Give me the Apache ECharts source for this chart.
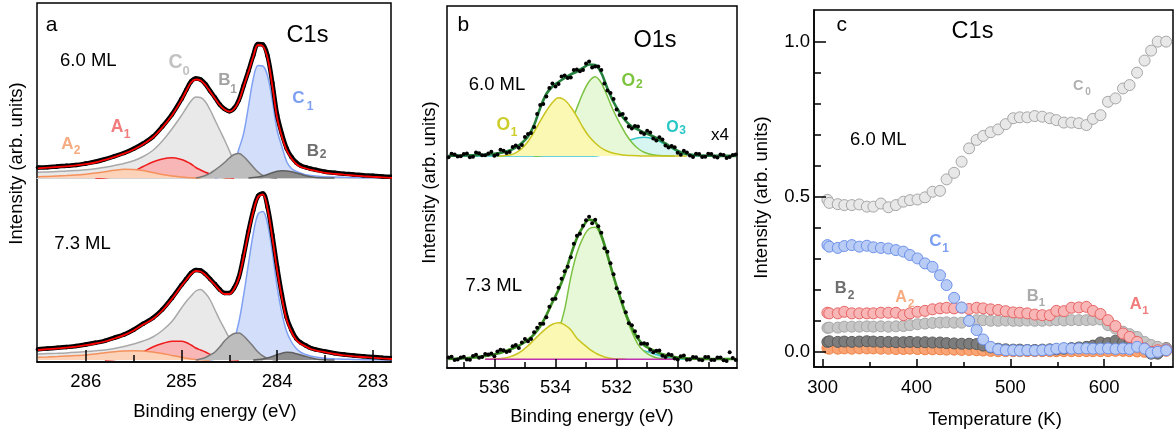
<!DOCTYPE html>
<html>
<head>
<meta charset="utf-8">
<script src="https://cdn.jsdelivr.net/npm/echarts@6.0.0/dist/echarts.min.js"></script>
<style>
html,body{margin:0;padding:0;background:#fff;}
#chart{width:1176px;height:438px;}
</style>
</head>
<body>
<div id="chart"></div>
<script>
const _ = null;
// ---------- Panel a : C1s spectra (binding energy, eV) ----------
const E_a = [286.5,286.4,286.3,286.2,286.1,286.0,285.9,285.8,285.7,285.6,285.5,285.4,285.3,285.2,285.1,285.0,
  284.95,284.9,284.85,284.8,284.75,284.7,284.65,284.6,284.55,284.5,284.45,284.4,284.35,284.3,284.25,284.2,284.15,284.1,284.05,284.0,
  283.95,283.9,283.85,283.8,283.75,283.7,283.65,283.6,283.5,283.4,283.3,283.2,283.1,283.0,282.9,282.8];
// 6.0 ML
const a6_data = [10.5,10.8,11.6,12.2,13,14.5,16.2,18.8,21.8,25,29.3,34.5,41.2,51.5,63.5,79,
  88,96.5,99.5,98.5,94,87,80.5,73.5,69,66.8,69.8,78,92.5,107,122.5,134,133.5,122,95,63,44,29.5,21,15.5,12.3,10.7,9.3,8.3,
  6.3,5.2,4.3,3.5,2.8,2.2,1.6,1.3];
const a6_fit = [9.7,10.4,11,11.7,12.6,13.8,15.5,18.2,21.2,24.4,28.5,33.8,40.5,50.5,62.5,78,
  87,95.5,98.5,97.5,93,86.3,79.5,73,68.5,66.3,69,77,91.5,106,121.3,133,132,120,92,60,41.3,27.5,19.5,14,11,9.5,8.2,7.2,
  5.2,4.2,3.3,2.5,1.8,1.2,0.6,0.2];
const a6_C0 = [5.7,6.1,6.5,6.9,7.5,8.2,9.2,10.8,12.6,14.6,17.2,21.5,27.5,37,49,62.5,
  70,77,81,80.5,76.3,68,58,48,38,27.5,16.5,10.5,4.7,2.5,1,0.4,0,_,_,_,_,_,_,_,_,_,_,_,_,_,_,_,_,_,_,_];
const a6_A2 = [1.3,1.6,2,2.5,3.1,3.7,4.9,6.3,7.7,8.7,8.4,7.4,5.4,3.6,2,1,0.6,0.3,0.1,0,
  _,_,_,_,_,_,_,_,_,_,_,_,_,_,_,_,_,_,_,_,_,_,_,_,_,_,_,_,_,_,_,_];
const a6_A1 = [_,_,_,_,_,_,0,0.3,1,3,6.8,11.5,16,19,20.2,18.5,16.5,14,10.5,8,5.8,4,2.5,1.3,0.5,0.2,0,
  _,_,_,_,_,_,_,_,_,_,_,_,_,_,_,_,_,_,_,_,_,_,_,_,_];
const a6_B1 = [_,_,_,_,_,_,_,_,_,_,_,_,_,_,_,_,_,_,0,1,2.5,4.7,8,11.5,15.5,20,23.5,24.5,21.5,16.5,11,6,2.6,1,0.3,0,
  _,_,_,_,_,_,_,_,_,_,_,_,_,_,_,_];
const a6_C1 = [_,_,_,_,_,_,_,_,_,_,_,_,_,_,_,_,_,_,_,_,_,_,0,1,3,7,14,29,44.7,71.3,99,112.5,112,102,77,47.5,31.3,16.3,
  9.5,6.5,4.8,3.2,2.5,2,1.3,1,0.7,0.5,0.3,0.2,0.1,0];
const a6_B2 = [_,_,_,_,_,_,_,_,_,_,_,_,_,_,_,_,_,_,_,_,_,_,_,_,_,_,_,_,_,0,0.4,1,2,3.5,5.2,6.8,7.3,7,6.2,5,3.7,2.2,1.2,0.6,0.1,0,
  _,_,_,_,_,_];
// 7.3 ML
const a7_data = [10.8,11.5,12.2,13,14,15.5,17.2,19.2,22.3,25.5,30.3,36.3,42,50.5,62,75,
  81,87,90,89.5,86,81,76,70.5,67,67,72,83,104.5,128.5,149.5,164,166.5,153,125,93,65,42.5,30,21.5,17.2,14.5,12,10.6,
  8.6,6.8,5.4,4.4,3.7,3,2.3,1.7];
const a7_fit = [10,10.8,11.5,12.3,13.4,14.8,16.5,18.5,21.5,24.8,29.5,35.5,41,49.5,61,74,
  80,86,89,88.5,85,80,75,69.5,66,66,71,82,103.3,127,148,163,165.5,151,122,90,62,40,28,20,16,13.5,11,9.7,
  7.8,6,4.6,3.7,3,2.3,1.6,1];
const a7_C0 = [6,6.4,6.7,7.1,7.7,8.4,9.2,10.1,11.5,13.5,16,19,23,29.5,38.5,52,
  58.5,64,69,70.5,66.7,60,50,40,31,22,14,7.5,3.5,1.5,0.6,0.2,0,_,_,_,_,_,_,_,_,_,_,_,_,_,_,_,_,_,_,_];
const a7_A2 = [2.7,3,3.4,3.9,4.4,5,6,7.2,8.3,9,9.3,9,8,6.5,4.6,2.8,1.8,1.1,0.6,0.3,0.1,0,
  _,_,_,_,_,_,_,_,_,_,_,_,_,_,_,_,_,_,_,_,_,_,_,_,_,_,_,_,_,_];
const a7_A1 = [_,_,_,_,_,_,_,0,0.5,2,4.8,8.3,13,16.5,18.7,18.7,17.5,15,12,10,8,5.5,3.7,2.4,1.3,0.6,0.2,0,
  _,_,_,_,_,_,_,_,_,_,_,_,_,_,_,_,_,_,_,_,_,_,_,_];
const a7_B1 = [_,_,_,_,_,_,_,_,_,_,_,_,_,_,_,_,_,_,0,1,2.5,5,8,13,19,23.5,26.5,27,24,19,13.5,8,4,1.7,0.6,0,
  _,_,_,_,_,_,_,_,_,_,_,_,_,_,_,_];
const a7_C1 = [_,_,_,_,_,_,_,_,_,_,_,_,_,_,_,_,_,_,_,_,_,0,1,2.5,5,10,20,38,65,96,126,146,148.5,136,107,73,46.7,28.3,
  18,11.5,7.5,5.5,4,3,1.7,1.2,0.8,0.5,0.3,0.2,0.1,0];
const a7_B2 = [_,_,_,_,_,_,_,_,_,_,_,_,_,_,_,_,_,_,_,_,_,_,_,_,_,_,_,_,_,_,0,0.4,1,2,3.5,5.2,6.8,7.7,7.4,6.3,5,3.6,2.2,1.1,0.3,0,
  _,_,_,_,_,_];

// ---------- Panel b : O1s spectra ----------
const E_b = [537.5,537.3,537.1,536.9,536.7,536.5,536.3,536.1,535.9,535.7,535.5,535.3,535.1,534.9,534.7,534.5,
  534.3,534.1,533.9,533.7,533.5,533.3,533.1,532.9,532.7,532.5,532.3,532.1,531.9,531.7,531.5,531.3,
  531.1,530.9,530.7,530.5,530.3,530.1,529.9,529.7,529.5,529.3,529.1,528.9,528.7,528.5,528.3,528.1];
const E_bm = [537.4,537.2,537.0,536.8,536.6,536.4,536.2,536.0,535.8,535.6,535.4,535.2,535.0,534.8,534.6,534.4,
  534.2,534.0,533.8,533.6,533.4,533.2,533.0,532.8,532.6,532.4,532.2,532.0,531.8,531.6,531.4,531.2,
  531.0,530.8,530.6,530.4,530.2,530.0,529.8,529.6,529.4,529.2,529.0,528.8,528.6,528.4,528.2];
const b6_data = [-1.2,1.6,-0.3,2.6,-0.7,2.8,0.8,4.3,1.6,5.2,4,10.5,11,22,29,51,59.5,72.5,72,80.5,78.5,86.5,86,94.5,
  89.5,86,65.5,57,41,37.5,27.5,29.5,22,23.5,15.5,16.5,8.5,8.8,1.3,3.4,-1,2,-0.7,2,-1.4,1.1,-1.1,1.6];
const b6_data2 = [2.35,-0.55,2.05,-1.3,3.4,0.65,2.55,0.2,6.15,3.1,9,8.2,19,23,42,52,68,69.5,79.5,78,86,84.8,92.5,88.5,
  89.5,72.5,63,46.5,42,29.5,30,23.5,25.2,17.5,18.7,10.5,10.1,3.3,5.3,0.4,2.2,-1.1,2.25,-0.85,1.6,-1.9,1.1];
const b6_fit = [0.3,0.4,0.5,0.6,0.8,1,1.3,1.8,2.6,3.7,5.5,8.5,13,19.5,31,48,62,69.5,74,78,81.5,84.5,88,91.5,
  91,83,67.5,54,43.5,35,29.5,26.5,23.5,21,18,14.5,10.5,6.8,3.8,1.9,1,0.5,0.3,0.2,0.1,0.1,0.1,0.1];
const b6_O1 = [_,_,_,_,_,_,_,_,0,0.3,1,3.2,7.5,14.5,24,34.8,45,53.5,58.3,56,49,39.5,28.5,19.5,13,8,4.8,2.8,1.6,0.8,0.4,0.2,0,
  0,0,0,0,0,0,0,_,_,_,_,_,_,_,_];
const b6_O2 = [_,_,_,_,_,_,_,_,_,_,_,_,_,_,0,0.3,1,3,8,18,32,48,63,74.5,79.3,73,59.5,45,33,22,13.5,7.5,3.8,1.8,0.8,0.3,0.1,0,
  _,_,_,_,_,_,_,_,_,_];
const b6_O3 = [0,0,0,0,0,0,0,0,0,0,0,0,0,0,0,0,0,0,0,0,0,0,0,0,0,1,3,6.5,10.5,14,16.5,18.2,18.7,18,16,13,9.5,6,3.2,1.5,0.6,0.2,
  0,0,0,0,0,0];
const b7_data = [1.9,-0.6,1.7,-0.2,3.3,1.5,5.3,5.8,7.7,9.1,8.3,14.3,16.8,18,27,35.5,42,60,71.5,88,102,123.5,133.5,142.5,
  139.5,126.5,107.5,85,66.5,47,34,22.5,16,9.5,8.5,3.5,5,0.8,3,-0.5,2.2,-0.5,2.4,-0.7,1.8,-0.9,7,-0.7];
const b7_data2 = [2.5,-0.25,2.6,-0.45,4.65,2.4,4.8,3,9.65,7.2,13,11.3,20.4,20.2,31.5,35.5,52.5,60.5,80.5,92.5,115.5,125.5,139,136,
  133,111,96,71,57.5,36,28,15.5,15.2,7,8.7,2.2,4.4,-0.1,3.75,-0.15,2.1,-1.05,2.35,-0.7,1.8,-1.7,1.3];
const b7_fit = [0.4,0.6,0.9,1.3,1.8,2.5,3.3,4.3,5.7,7.6,9.8,12.3,15.3,19.5,25,33,44,57,69.5,85,104,121,132.5,139.5,
  137.5,124,104.5,83,63.5,45.5,31.5,20.5,14,10.5,7.5,5,3.5,2.3,1.5,1,0.7,0.5,0.4,0.3,0.3,0.3,0.3,0.3];
const b7_O1 = [_,_,_,_,_,_,0,0.2,0.5,1.1,2.4,4.8,8.5,13.5,19.5,25.5,31,35,36.5,34.5,29.5,21,15.5,10.5,6.5,3.5,1.5,0.6,0.2,0,
  _,_,_,_,_,_,_,_,_,_,_,_,_,_,_,_,_,_];
const b7_O2 = [_,_,_,_,_,_,_,_,_,_,_,0,0.5,0.8,1.7,4,8.5,17,29,50,82,106,121.5,130.5,132,122,102.5,82,62,43.5,27.5,15,8,4,1.6,0.6,0.2,0,
  _,_,_,_,_,_,_,_,_,_];
const b7_O3 = [_,_,_,_,_,_,_,_,_,_,_,_,_,_,_,_,_,_,_,_,_,_,_,_,_,0,0.4,1.3,3.2,5.5,7.5,8.6,8.2,6.8,4.8,2.9,1.5,0.7,0.3,0,
  _,_,_,_,_,_,_,_];
const b7_base = [_,_,_,_,_,_,0,0,0,0,0,0,0,0,0,0,0,0,0,0,0,0,0,0,0,0,0,0,0,0,0,0,0,0,0,0,0,0,_,_,_,_,_,_,_,_,_,_];

// ---------- Panel c : C1s component intensities vs temperature ----------
const T = [305,307,316,323,331,339,347,354,362,370,378,386,393,401,409,417,425,432,440,448,456,464,471,479,
  487,495,503,510,518,526,534,542,549,557,565,573,581,588,596,604,612,620,627,635,643,650,657,666];
const c_C0 = [0.49,0.48,0.476,0.473,0.473,0.475,0.468,0.468,0.478,0.466,0.473,0.484,0.489,0.491,0.498,0.516,0.519,0.556,0.577,0.613,
  0.656,0.683,0.696,0.708,0.717,0.734,0.753,0.756,0.756,0.760,0.758,0.753,0.747,0.739,0.739,0.737,0.731,0.751,0.763,0.806,
  0.817,0.849,0.860,0.900,0.939,0.971,1.0,1.0];
const c_C1 = [0.344,0.339,0.335,0.341,0.344,0.339,0.342,0.337,0.335,0.333,0.328,0.323,0.312,0.301,0.285,0.274,0.247,0.215,0.174,0.143,
  0.100,0.070,0.040,0.016,0.008,0.005,0.005,0.004,0.005,0.004,0.005,0.006,0.010,0.012,0.010,0.011,0.011,0.010,0.010,0.011,
  0.009,0.011,0.009,0.016,0.010,-0.003,0.0,0.005];
const c_A1 = [0.126,0.124,0.124,0.129,0.124,0.124,0.124,0.124,0.126,0.126,0.126,0.118,0.124,0.129,0.132,0.137,0.140,0.142,0.140,0.142,
  0.138,0.142,0.140,0.137,0.135,0.131,0.127,0.126,0.124,0.120,0.118,0.118,0.132,0.131,0.142,0.143,0.145,0.132,0.122,0.102,
  0.083,0.059,0.048,0.032,0.011,0.0,0.005,0.007];
const c_B1 = [0.077,0.078,0.078,0.081,0.081,0.081,0.082,0.081,0.082,0.081,0.082,0.083,0.086,0.089,0.091,0.093,0.094,0.095,0.094,0.094,
  0.100,0.102,0.102,0.100,0.100,0.101,0.100,0.100,0.101,0.100,0.100,0.101,0.102,0.101,0.102,0.102,0.102,0.103,0.104,0.086,
  0.075,0.065,0.057,0.048,0.032,0.022,0.016,0.011];
const c_B2 = [0.032,0.034,0.032,0.033,0.032,0.033,0.034,0.033,0.032,0.032,0.031,0.031,0.032,0.031,0.031,0.030,0.030,0.028,0.027,0.026,
  0.026,0.025,0.020,0.014,0.010,0.008,0.007,0.007,0.006,0.006,0.007,0.008,0.008,0.010,0.012,0.014,0.016,0.020,0.030,0.028,
  0.036,0.030,0.028,0.026,0.018,-0.006,-0.006,0.012];
const c_A2 = [0.012,0.010,0.010,0.011,0.010,0.011,0.011,0.011,0.010,0.010,0.009,0.009,0.010,0.009,0.008,0.008,0.008,0.007,0.007,0.006,
  0.006,0.005,0.004,0.003,0.002,0.002,0.002,0.002,0.002,0.002,0.002,0.002,0.002,0.002,0.002,0.002,0.002,0.002,0.002,0.002,
  0.003,0.003,0.002,0.001,0.000,-0.002,-0.002,0.003];

// ---------- tick values ----------
const ticksA = [283,284,285,286], minorA = [283.5,284.5,285.5];
const ticksB = [530,532,534,536], minorB = [529,531,533,535,537];
const ticksCx = [300,400,500,600], minorCx = [350,450,550,650];
const ticksCy = [0,0.5,1.0], minorCy = [0.1,0.2,0.3,0.4,0.6,0.7,0.8,0.9];

// ---------- build ----------
const FONT = '"Liberation Sans", Arial, Helvetica, sans-serif';
const xy = (xs, ys) => xs.map((x, i) => [x, ys[i] === null ? '-' : ys[i]]);
let zc = 2;
function comp(xi, yi, xs, ys, color, w, fill) {
  const s = {type:'line', xAxisIndex:xi, yAxisIndex:yi, data:xy(xs, ys), smooth:0.35, symbol:'none',
    lineStyle:{color:color, width:w}, z:zc++, silent:true};
  if (fill) s.areaStyle = {color:fill, opacity:1};
  return s;
}
function dots(xi, yi, xs, ys) {
  return {type:'line', xAxisIndex:xi, yAxisIndex:yi, data:xy(xs, ys), smooth:0.35, symbol:'circle', symbolSize:4.5,
    showAllSymbol:true, itemStyle:{color:'#000'}, lineStyle:{color:'#000', width:4.5}, z:zc++, silent:true};
}
function scat(xi, yi, xs, ys, size, fill, stroke) {
  return {type:'scatter', xAxisIndex:xi, yAxisIndex:yi, data:xy(xs, ys), symbolSize:size,
    itemStyle:{color:fill, borderColor:stroke, borderWidth:stroke ? 1 : 0, opacity:1}, z:zc++, silent:true};
}
function majorX(grid, min, max, inv, ticks, len, margin) {
  return {type:'value', gridIndex:grid, min, max, inverse:inv, position:'bottom', offset:0, z:50,
    axisLine:{show:true, onZero:false, lineStyle:{color:'#000', width:1.5}},
    axisTick:{show:true, inside:true, length:len, customValues:ticks, lineStyle:{color:'#000', width:1.5}},
    axisLabel:{show:true, customValues:ticks, fontSize:18.5, color:'#000', fontFamily:FONT, margin},
    splitLine:{show:false}};
}
function minorX(grid, min, max, inv, ticks, len) {
  return {type:'value', gridIndex:grid, min, max, inverse:inv, position:'bottom', offset:0, z:50,
    axisLine:{show:false, onZero:false},
    axisTick:{show:true, inside:true, length:len, customValues:ticks, lineStyle:{color:'#000', width:1.5}},
    axisLabel:{show:false}, splitLine:{show:false}};
}
const hidX = (grid, min, max) => ({type:'value', gridIndex:grid, min, max, inverse:true, show:false});
const hidY = (grid, min, max) => ({type:'value', gridIndex:grid, min, max, show:false});

const xAxis = [
  majorX(0, 282.81, 286.51, true, ticksA, 12, 10),
  minorX(0, 282.81, 286.51, true, minorA, 7),
  {type:'value', gridIndex:1, min:282.81, max:286.51, inverse:true, show:true,
    axisLine:{show:true, onZero:true, lineStyle:{color:'#d4d4d4', width:1}}, axisTick:{show:false}, axisLabel:{show:false}, splitLine:{show:false}},
  hidX(2, 282.81, 286.51),
  majorX(3, 528.06, 537.55, true, ticksB, 9, 10.5),
  minorX(3, 528.06, 537.55, true, minorB, 6),
  hidX(4, 528.06, 537.55),
  hidX(5, 528.06, 537.55),
  majorX(6, 290.7, 673.3, false, ticksCx, 8, 11.5),
  minorX(6, 290.7, 673.3, false, minorCx, 5)
];
const yAxis = [
  hidY(0, 0, 1), hidY(1, -5, 140), hidY(2, -5, 180), hidY(3, 0, 1), hidY(4, -10, 100), hidY(5, -10, 150),
  {type:'value', gridIndex:6, min:-0.049, max:1.102, position:'left', offset:0, z:50,
    axisLine:{show:true, onZero:false, lineStyle:{color:'#000', width:1.5}},
    axisTick:{show:true, inside:true, length:12, customValues:ticksCy, lineStyle:{color:'#000', width:1.5}},
    axisLabel:{show:true, customValues:ticksCy, fontSize:18.5, color:'#000', fontFamily:FONT, margin:4,
      formatter:v => Number(v).toFixed(1)},
    splitLine:{show:false}},
  {type:'value', gridIndex:6, min:-0.049, max:1.102, position:'left', offset:0, z:50,
    axisLine:{show:false, onZero:false},
    axisTick:{show:true, inside:true, length:7, customValues:minorCy, lineStyle:{color:'#000', width:1.5}},
    axisLabel:{show:false}, splitLine:{show:false}}
];
const box = {show:true, borderColor:'#000', borderWidth:1.5, backgroundColor:'transparent', outerBoundsMode:'none'};
const grid = [
  Object.assign({left:37, top:3, width:354, height:359}, box),
  {left:37, top:38, width:354, height:145, outerBoundsMode:'none'},
  {left:37, top:180, width:354, height:185, outerBoundsMode:'none'},
  Object.assign({left:447, top:6, width:290, height:362}, box),
  {left:447, top:56, width:290, height:110, outerBoundsMode:'none'},
  {left:447, top:209.3, width:290, height:160, outerBoundsMode:'none'},
  Object.assign({left:814, top:10, width:359, height:357}, box)
];

const series = [];
// panel a, 6.0 ML (x 2, y 1)
series.push(comp(2,1,E_a,a6_C0,'#a9a9a9',1.5,'#e9e9e9'));
series.push(comp(2,1,E_a,a6_A1,'#ee1c1c',1.5,'#f9b6b6'));
series.push(comp(2,1,E_a,a6_A2,'#f5915c',1.5,'#fcd2b8'));
series.push(comp(2,1,E_a,a6_C1,'#7fa0f3',1.5,'#d3defa'));
series.push(comp(2,1,E_a,a6_B1,'#7a7a7a',1.5,'#bdbdbd'));
series.push(comp(2,1,E_a,a6_B2,'#5f5f5f',1.5,'#8e8e8e'));
series.push(dots(2,1,E_a,a6_data));
series.push(comp(2,1,E_a,a6_fit,'#ff0000',1.8));
// panel a, 7.3 ML (x 3, y 2)
series.push(comp(3,2,E_a,a7_C0,'#a9a9a9',1.5,'#e9e9e9'));
series.push(comp(3,2,E_a,a7_A1,'#ee1c1c',1.5,'#f9b6b6'));
series.push(comp(3,2,E_a,a7_A2,'#f5915c',1.5,'#fcd2b8'));
series.push(comp(3,2,E_a,a7_C1,'#7fa0f3',1.5,'#d3defa'));
series.push(comp(3,2,E_a,a7_B1,'#7a7a7a',1.5,'#bdbdbd'));
series.push(comp(3,2,E_a,a7_B2,'#5f5f5f',1.5,'#8e8e8e'));
series.push(dots(3,2,E_a,a7_data));
series.push(comp(3,2,E_a,a7_fit,'#ff0000',1.8));
// panel b, 6.0 ML (x 6, y 4)
series.push(comp(6,4,E_b,b6_O3,'#36c8c8',1.5,'#d8f6f1'));
series.push(comp(6,4,E_b,b6_O2,'#7cc242',1.5,'#e7f8d8'));
series.push(comp(6,4,E_b,b6_O1,'#c9c41e',1.5,'#fbf8b4'));
series.push(comp(6,4,E_b,b6_fit,'#24803c',2.6));
series.push(scat(6,4,E_b,b6_data,4,'#000'));
series.push(scat(6,4,E_bm,b6_data2,4,'#000'));
// panel b, 7.3 ML (x 7, y 5)
series.push(comp(7,5,E_b,b7_O3,'#36c8c8',1.5,'#d8f6f1'));
series.push(comp(7,5,E_b,b7_O2,'#7cc242',1.5,'#e7f8d8'));
series.push(comp(7,5,E_b,b7_O1,'#c9c41e',1.5,'#fbf8b4'));
series.push(comp(7,5,E_b,b7_base,'#c030b0',1.5));
series.push(comp(7,5,E_b,b7_fit,'#3a8e22',2.6));
series.push(scat(7,5,E_b,b7_data,4,'#000'));
series.push(scat(7,5,E_bm,b7_data2,4,'#000'));
// panel c (x 8, y 6)
series.push(scat(8,6,T,c_A2,11,'#f8a474','#ef8248'));
series.push(scat(8,6,T,c_B2,11,'#7d7d7d','#5a5a5a'));
series.push(scat(8,6,T,c_B1,11,'#c6c6c6','#a6a6a6'));
series.push(scat(8,6,T,c_A1,11,'#f8b6b6','#e86464'));
series.push(scat(8,6,T,c_C1,11,'#b9ccf6','#6d91ea'));
series.push(scat(8,6,T,c_C0,11,'#e8e8e8','#a6a6a6'));

// ---------- text ----------
function txt(x, y, s, size, color, bold, rot) {
  return {type:'text', x:x, y:y, rotation:rot || 0, z:100, silent:true,
    style:{text:s, font:(bold ? 'bold ' : '') + size + 'px ' + FONT, fill:color || '#000',
      align:'center', verticalAlign:'middle', textAlign:'center', textVerticalAlign:'middle'}};
}
const labelA = [
  ['C','0',175.5,62.5,186,71,19.5,13,'#c2c2c2'],
  ['B','1',224.5,80.5,233.5,89.5,17,12,'#a3a3a3'],
  ['C','1',298.5,98.5,310,107,17,12,'#7d9ff2'],
  ['B','2',312.8,151.7,323.2,155,17,12,'#6e6e6e'],
  ['A','1',117,127.5,127,134.5,17.5,12,'#f27b7b'],
  ['A','2',67.5,144,77,151,17,12,'#f7ab80'],
  ['O','1',503.3,125,514,133,17.5,12,'#cccc2a'],
  ['O','2',628.3,80.7,639.3,85,17.5,12,'#7cc43c'],
  ['O','3',672.5,127.5,682.7,130.5,16,12,'#2bc6c6'],
  ['C','0',1078.3,85.8,1088,92.5,14.5,10,'#b0b0b0'],
  ['C','1',935.3,241.7,945.5,249,17,12,'#7d9ff2'],
  ['B','2',840.8,288.8,851.2,295.5,16.5,12,'#6e6e6e'],
  ['A','2',901,297.5,911.2,303.5,16,11.5,'#f7ab80'],
  ['B','1',1032.7,296.7,1042,302.5,16.5,11.5,'#ababab'],
  ['A','1',1135.8,304,1145.5,310.5,16.5,11.5,'#f27b7b']
];
const graphic = [
  txt(51.7,25,'a',21), txt(307.5,36,'C1s',23.5), txt(88.3,61,'6.0 ML',18.5), txt(82.5,244,'7.3 ML',18.5),
  txt(463.3,25,'b',21), txt(655,40.5,'O1s',23.5), txt(497,85,'6.0 ML',18.5), txt(493.7,285.5,'7.3 ML',18.5), txt(720,135,'x4',17),
  txt(841.7,25,'c',21), txt(972.5,32,'C1s',23.5), txt(878.3,140,'6.0 ML',18.5),
  txt(215,411.5,'Binding energy (eV)',18.5), txt(592,416.5,'Binding energy (eV)',18.5), txt(995,419.5,'Temperature (K)',18.5),
  txt(17,163.5,'Intensity (arb. units)',18.5,'#000',false,Math.PI/2),
  txt(430,182.5,'Intensity (arb. units)',18.5,'#000',false,Math.PI/2),
  txt(762,197.5,'Intensity (arb. units)',18.5,'#000',false,Math.PI/2)
];
labelA.forEach(l => {
  graphic.push(txt(l[2], l[3], l[0], l[6], l[8], true));
  graphic.push(txt(l[4], l[5], l[1], l[7], l[8], true));
});

const chart = echarts.init(document.getElementById('chart'), null, {renderer:'canvas'});
chart.setOption({
  animation:false,
  backgroundColor:'#fff',
  textStyle:{fontFamily:FONT},
  grid, xAxis, yAxis, series, graphic
});
</script>
</body>
</html>
